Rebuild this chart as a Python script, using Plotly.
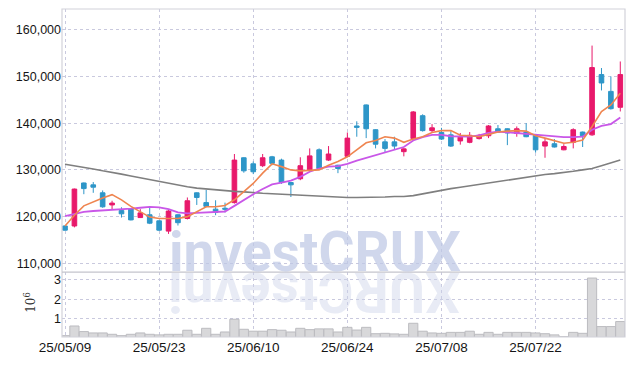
import plotly.graph_objects as go

dates = ["25/05/09","25/05/12","25/05/13","25/05/14","25/05/15","25/05/16","25/05/19","25/05/20","25/05/21","25/05/22",
         "25/05/23","25/05/26","25/05/27","25/05/28","25/05/29","25/05/30","25/06/02","25/06/04","25/06/05","25/06/09",
         "25/06/10","25/06/11","25/06/12","25/06/13","25/06/16","25/06/17","25/06/18","25/06/19","25/06/20","25/06/23",
         "25/06/24","25/06/25","25/06/26","25/06/27","25/06/30","25/07/01","25/07/02","25/07/03","25/07/04","25/07/07",
         "25/07/08","25/07/09","25/07/10","25/07/11","25/07/14","25/07/15","25/07/16","25/07/17","25/07/18","25/07/21",
         "25/07/22","25/07/23","25/07/24","25/07/25","25/07/28","25/07/29","25/07/30","25/07/31","25/08/01","25/08/04"]

open_ = [118000,118000,127200,126800,125100,122500,121300,121700,119800,120400,
         119100,116900,120400,119600,125100,123000,121600,121800,123000,132600,
         131300,130900,132800,132100,127300,128100,129900,134300,132100,131000,
         132900,139400,143900,138600,136000,136000,133900,136700,141600,138400,
         138000,137500,136200,135900,136700,137300,138800,138800,137800,138100,
         137400,135100,135600,134300,135900,138100,137500,150400,146800,143400]
high = [118100,126000,127300,127400,125600,123400,122000,121800,121600,122000,
        119200,121400,120500,124100,125200,125700,123500,123000,133400,132700,
        131800,133400,133000,132400,127400,132700,134600,134600,135100,131100,
        138000,140400,144000,138700,136600,137100,134600,142600,141900,139800,
        139000,138300,137900,138100,137700,139600,139600,138900,139300,140000,
        137500,136800,136600,135500,138900,138200,156600,151800,150000,153200]
low = [117000,117700,124800,125100,121900,121600,119800,119200,119700,118400,
       116900,116300,118100,119400,122500,122000,120300,120900,122800,129400,
       129100,130600,131000,127000,124200,127800,129600,130200,131900,129300,
       132700,137100,136800,134600,133800,134400,132900,136500,138200,138000,
       136400,134900,135400,135700,136500,136800,138000,135300,137100,137000,
       133700,132600,134800,134200,134600,134900,137300,147000,142900,142500]
close = [117100,125900,126000,126300,122100,122900,120600,119300,120800,118600,
         117100,121200,118700,123400,124100,122200,120900,121600,132100,129800,
         129600,132600,131400,127300,126800,130900,133000,130300,133400,130300,
         136800,139100,138800,135500,134600,135100,134500,142400,138400,139000,
         136600,135100,137000,137400,137400,139400,138100,137900,138800,137100,
         134300,136000,134900,135000,138600,137300,151900,148600,143100,150400]

ma_short = [118000,120300,122300,123200,124000,124700,123600,122200,121000,119900,
            119600,119600,119600,120000,121000,122100,122100,122400,123600,125300,
            127100,129300,131300,130700,130000,129800,129900,130000,131000,131800,
            132800,134300,135800,136300,137100,136800,135900,136600,137100,138000,
            138400,138400,137400,137300,137100,137600,138100,138300,138400,138300,
            137300,136800,136200,135700,135900,136400,139300,142500,143900,146400]
ma_mid = [120100,120600,121000,121200,121300,121400,121500,121700,121900,122100,
          122000,121600,120900,120700,120800,120900,120900,121100,122300,123600,
          124800,125900,126900,127300,127700,128500,129600,130300,130700,130800,
          131300,132000,132600,133200,133800,134300,134900,136300,137000,137500,
          137500,137200,137100,137100,137400,137900,138200,138100,137900,137700,
          137500,137400,137100,137000,137000,137100,138600,139400,139800,141200]
ma_long = [131200,130900,130500,130200,129800,129500,129100,128700,128300,127900,
           127500,127100,126700,126400,126100,125900,125700,125500,125400,125300,
           125100,125000,124900,124800,124700,124600,124500,124300,124200,124100,
           124100,124100,124100,124100,124200,124300,124300,124500,124900,125300,
           125700,126000,126300,126600,126900,127200,127600,127900,128200,128500,
           128800,129000,129200,129400,129700,130000,130300,130900,131500,132100]

volume = [120000,620000,330000,260000,260000,190000,120000,190000,260000,190000,
          160000,190000,190000,400000,190000,500000,190000,310000,970000,450000,
          350000,350000,430000,400000,310000,500000,430000,470000,470000,310000,
          550000,410000,550000,220000,240000,210000,190000,760000,350000,260000,
          240000,290000,290000,350000,190000,290000,190000,290000,290000,290000,
          260000,220000,160000,70000,290000,240000,3100000,590000,590000,850000]

price_ticks = [110000, 120000, 130000, 140000, 150000, 160000]
vol_ticks = [1000000, 2000000, 3000000]
vol_tick_text = ["1", "2", "3"]
x_tick_idx = [0, 10, 20, 30, 40, 50]

UP = "#e8196b"
DOWN = "#2e96c8"
GRID = "#c9c9de"
FONT = "Liberation Sans, Arial, sans-serif"
TICKFONT_Y = dict(size=12.5, family=FONT, color="#151515")
TICKFONT_X = dict(size=13.5, family=FONT, color="#151515")

fig = go.Figure()
fig.add_trace(go.Candlestick(
    x=dates, open=open_, high=high, low=low, close=close,
    increasing=dict(line=dict(color=UP, width=1), fillcolor=UP),
    decreasing=dict(line=dict(color=DOWN, width=1), fillcolor=DOWN),
    whiskerwidth=0, xaxis="x", yaxis="y", showlegend=False))
fig.add_trace(go.Scatter(x=dates, y=ma_long, mode="lines",
                         line=dict(color="#7f7f7f", width=1.6), xaxis="x", yaxis="y", showlegend=False))
fig.add_trace(go.Scatter(x=dates, y=ma_mid, mode="lines",
                         line=dict(color="#c957e8", width=1.8), xaxis="x", yaxis="y", showlegend=False))
fig.add_trace(go.Scatter(x=dates, y=ma_short, mode="lines",
                         line=dict(color="#ef8550", width=1.6), xaxis="x", yaxis="y", showlegend=False))
fig.add_trace(go.Bar(x=dates, y=volume, marker=dict(color="#d8d8da", line=dict(color="#bcbcc0", width=1)),
                     xaxis="x", yaxis="y2", showlegend=False))

# the page body adds an 8px margin, so the figure is 8px smaller and margins shifted
fig.update_layout(
    width=626, height=358, autosize=False,
    margin=dict(l=54, r=9, t=1, b=29),
    paper_bgcolor="white", plot_bgcolor="white",
    bargap=0.02,
    font=dict(family=FONT, color="#222222"),
    xaxis=dict(type="category", categoryorder="array", categoryarray=dates,
               range=[-0.32, 59.5], anchor="y2", automargin=False,
               tickmode="array", tickvals=[dates[i] for i in x_tick_idx],
               ticktext=[dates[i] for i in x_tick_idx],
               showgrid=True, gridcolor=GRID, griddash="dot", gridwidth=1,
               ticks="", tickfont=TICKFONT_X,
               rangeslider=dict(visible=False), zeroline=False, showline=False),
    yaxis=dict(domain=[0.198, 1], range=[108140, 164430], anchor="x", automargin=False,
               tickmode="array", tickvals=price_ticks, tickformat=",d",
               showgrid=True, gridcolor=GRID, griddash="dot", gridwidth=1,
               ticks="", tickfont=TICKFONT_Y,
               zeroline=False, showline=False),
    yaxis2=dict(domain=[0, 0.198], range=[50000, 3410000], anchor="x", automargin=False,
                tickmode="array", tickvals=vol_ticks, ticktext=vol_tick_text,
                showgrid=True, gridcolor=GRID, griddash="dot", gridwidth=1,
                ticks="", tickfont=TICKFONT_Y,
                zeroline=False, showline=False),
    shapes=[
        dict(type="rect", xref="paper", yref="paper", x0=0, x1=1, y0=0, y1=1,
             line=dict(color="#d2d2da", width=1.2), layer="above"),
        dict(type="line", xref="paper", yref="paper", x0=0, x1=1, y0=0.198, y1=0.198,
             line=dict(color="#c4c4cc", width=1.2), layer="above"),
    ],
    annotations=[
        dict(text="<b>investCRUX</b>", xref="paper", yref="paper", x=0.4485, y=0.259,
             xanchor="center", yanchor="middle", showarrow=False,
             font=dict(size=55, family="Roboto, Liberation Sans, sans-serif",
                       color="rgba(190,199,228,0.72)")),
        dict(text="<b>XURCtsevni</b>", xref="paper", yref="paper", x=0.4485, y=0.137,
             xanchor="center", yanchor="middle", textangle=180, showarrow=False,
             font=dict(size=55, family="Roboto, Liberation Sans, sans-serif",
                       color="rgba(205,211,232,0.45)")),
        dict(text="10<sup>6</sup>", xref="paper", yref="paper", x=-0.057, y=0.107,
             xanchor="center", yanchor="middle", textangle=-90, showarrow=False,
             font=dict(size=12, family="DejaVu Serif, serif", color="#333333")),
    ],
)

fig.write_html("out.html")
